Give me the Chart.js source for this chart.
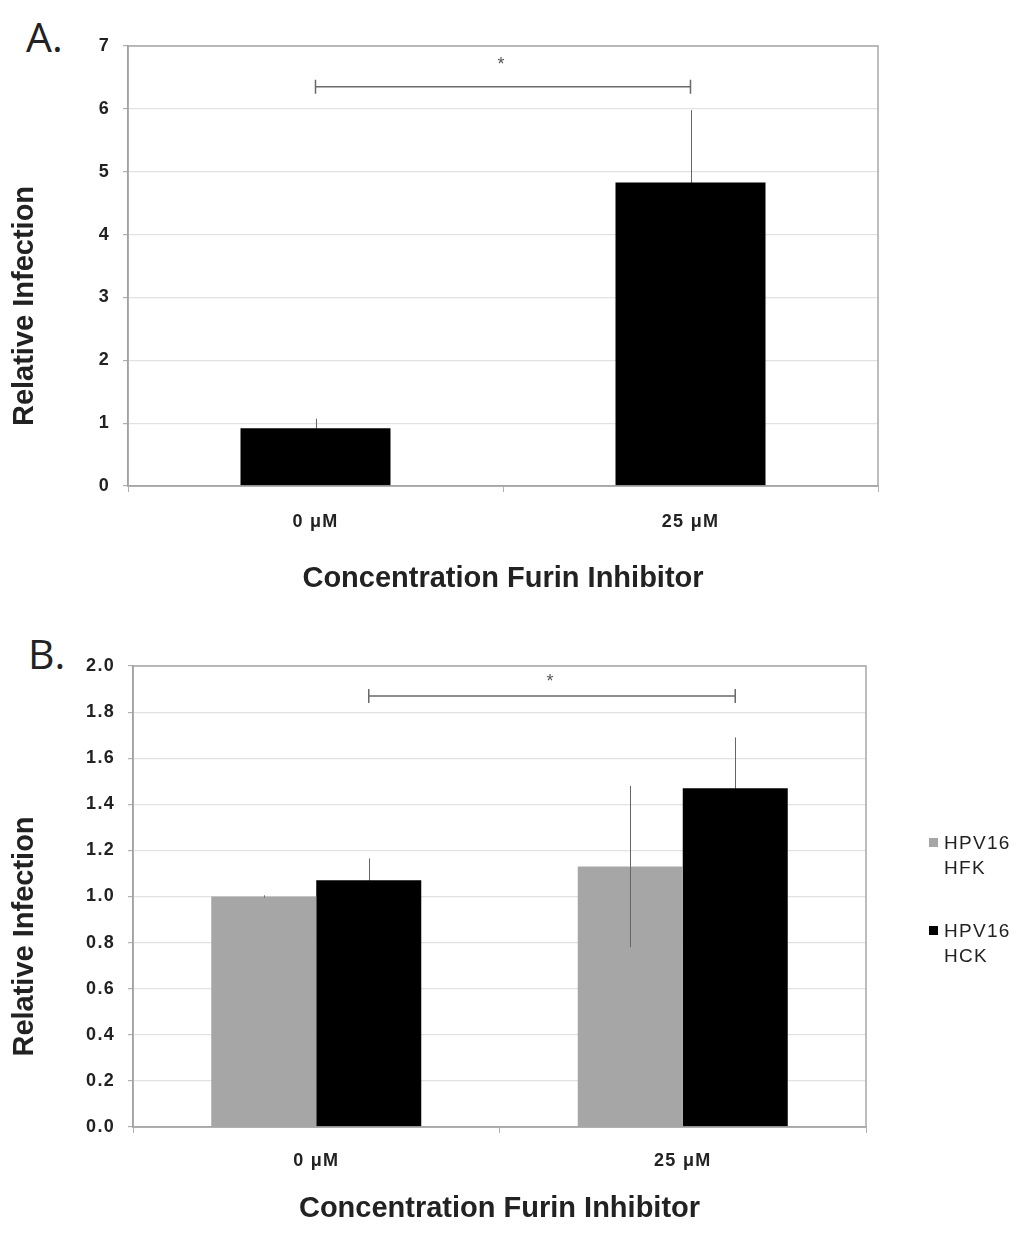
<!DOCTYPE html>
<html>
<head>
<meta charset="utf-8">
<script src="https://cdn.jsdelivr.net/npm/chart.js@4/dist/chart.umd.min.js"></script>
<style>
  html, body { margin: 0; padding: 0; background: #fff; }
  body { width: 1024px; height: 1237px; position: relative; overflow: hidden; font-family: "Liberation Sans", Arial, sans-serif; }
  .wrap { position: absolute; left: 0; width: 1024px; }
  #wrapA { top: 0; height: 618px; }
  #wrapB { top: 618px; height: 619px; }
  .panel { position: absolute; font-family: "Open Sans", sans-serif; font-size: 41px; line-height: 1; color: #222; }
  .legend { position: absolute; left: 929px; font-family: "Liberation Sans", Arial, sans-serif; font-size: 19px; line-height: 25px; color: #222; letter-spacing: 1.3px; }
  .legend .box { position: absolute; left: 0; top: 8px; width: 9px; height: 9px; }
  .legend .txt { position: absolute; left: 15px; top: 0; white-space: nowrap; }
</style>
</head>
<body>
<div class="panel" style="left:26px; top:16px;">A.</div>
<div class="panel" style="left:28px; top:633px;">B.</div>
<div id="wrapA" class="wrap"><canvas id="chartA"></canvas></div>
<div id="wrapB" class="wrap"><canvas id="chartB"></canvas></div>
<div id="legendB"></div>
<script>
// ---- data ----
const categories = ['0 μM', '25 μM'];
const valuesA = [0.92, 4.83];
const errorsA = [0.15, 1.15];
const seriesNamesB = ['HPV16 HFK', 'HPV16 HCK'];
const valuesHFK = [1.0, 1.13];
const errorsHFK = [0.005, 0.35];
const valuesHCK = [1.07, 1.47];
const errorsHCK = [0.095, 0.22];
const ticksA = [0, 1, 2, 3, 4, 5, 6, 7];
const ticksB = [0, 0.2, 0.4, 0.6, 0.8, 1.0, 1.2, 1.4, 1.6, 1.8, 2.0];
const sigA = { dataset: 0, from: 0, to: 1, y: 6.35, label: '*' };
const sigB = { dataset: 1, from: 0, to: 1, y: 1.87, label: '*' };
const axisTitleX = 'Concentration Furin Inhibitor';
const axisTitleY = 'Relative Infection';

const FONT = '"Liberation Sans", Arial, sans-serif';
const TEXT = '#222';
const TICK_SPACING = '1.3px';

// frame + error bars + significance + y title plugin
const extras = {
  id: 'extras',
  beforeDraw(chart) {
    chart.ctx.letterSpacing = TICK_SPACING;
  },
  beforeDatasetsDraw(chart) {
    const ctx = chart.ctx;
    const y = chart.scales.y;
    ctx.save();
    ctx.strokeStyle = '#666';
    ctx.lineWidth = 1;
    chart.data.datasets.forEach((ds, di) => {
      const meta = chart.getDatasetMeta(di);
      meta.data.forEach((bar, i) => {
        const v = ds.data[i], e = ds.errors[i];
        const x = Math.round(bar.x) + 0.5;
        ctx.beginPath();
        ctx.moveTo(x, y.getPixelForValue(v - e));
        ctx.lineTo(x, y.getPixelForValue(v + e));
        ctx.stroke();
      });
    });
    ctx.restore();
  },
  afterDatasetsDraw(chart) {
    const ctx = chart.ctx;
    const y = chart.scales.y;
    const a = chart.chartArea;
    const opts = chart.options.plugins.extras;
    ctx.save();
    // lower part of error bars over light bars
    ctx.strokeStyle = '#666';
    ctx.lineWidth = 1;
    chart.data.datasets.forEach((ds, di) => {
      if (!ds.errorInside) return;
      const meta = chart.getDatasetMeta(di);
      meta.data.forEach((bar, i) => {
        const v = ds.data[i], e = ds.errors[i];
        const x = Math.round(bar.x) + 0.5;
        ctx.beginPath();
        ctx.moveTo(x, y.getPixelForValue(v - e));
        ctx.lineTo(x, y.getPixelForValue(v));
        ctx.stroke();
      });
    });
    // frame
    ctx.strokeStyle = '#a8a8a8';
    ctx.lineWidth = 1.5;
    ctx.strokeRect(a.left, a.top, a.right - a.left, a.bottom - a.top);
    // significance bracket
    const sig = opts.sig;
    const meta = chart.getDatasetMeta(sig.dataset);
    const x1 = meta.data[sig.from].x, x2 = meta.data[sig.to].x;
    const yy = y.getPixelForValue(sig.y);
    ctx.strokeStyle = '#6a6a6a';
    ctx.lineWidth = 1.5;
    ctx.beginPath();
    ctx.moveTo(x1, yy); ctx.lineTo(x2, yy);
    ctx.moveTo(x1, yy - 7); ctx.lineTo(x1, yy + 7);
    ctx.moveTo(x2, yy - 7); ctx.lineTo(x2, yy + 7);
    ctx.stroke();
    ctx.fillStyle = '#555';
    ctx.font = '18px ' + FONT;
    ctx.letterSpacing = '0px';
    ctx.textAlign = 'center';
    ctx.textBaseline = 'middle';
    ctx.fillText(sig.label, (x1 + x2) / 2 - 2, yy + opts.starDy);
    // y-axis title
    ctx.fillStyle = TEXT;
    ctx.font = 'bold 29px ' + FONT;
    ctx.translate(25, (a.top + a.bottom) / 2 + opts.yTitleShift);
    ctx.rotate(-Math.PI / 2);
    ctx.fillText(axisTitleY, 0, 0);
    ctx.restore();
  }
};

function plainTitle(s) {
  if (s._plainTitle) return;
  const orig = s.drawTitle;
  s.drawTitle = function () {
    const c = this.ctx;
    c.save();
    c.letterSpacing = '0px';
    orig.call(this);
    c.restore();
  };
  s._plainTitle = true;
}

function makeOptions(cfg) {
  return {
    responsive: true,
    maintainAspectRatio: false,
    animation: false,
    layout: { padding: { left: 0, top: cfg.top, right: cfg.right, bottom: 0 } },
    plugins: {
      legend: { display: false },
      tooltip: { enabled: false },
      extras: { sig: cfg.sig, starDy: cfg.starDy, yTitleShift: 40 }
    },
    scales: {
      x: {
        type: 'category',
        grid: { offset: true, drawOnChartArea: false, drawTicks: true, tickLength: 6, color: '#b0b0b0' },
        border: { color: '#a0a0a0', width: 1.5 },
        ticks: { color: TEXT, font: { family: FONT, size: 18, weight: 'bold' }, padding: cfg.xTickPad },
        title: { display: true, text: axisTitleX, color: TEXT, font: { family: FONT, size: 29, weight: 'bold' }, padding: { top: 0, bottom: cfg.xTitlePad } },
        afterFit(s) { s.height = cfg.xHeight; plainTitle(s); }
      },
      y: {
        min: cfg.min, max: cfg.max,
        afterBuildTicks(s) { s.ticks = cfg.ticks.map(v => ({ value: v })); },
        grid: { color: '#e2e2e2', lineWidth: 1.2, drawTicks: true, tickLength: 5, tickColor: '#b0b0b0' },
        border: { color: '#8c8c8c', width: 1.5 },
        ticks: {
          color: TEXT, font: { family: FONT, size: 18, weight: 'bold' }, padding: cfg.yTickPad,
          callback: v => cfg.fmt(v)
        },
        title: { display: false, text: axisTitleY },
        afterFit(s) { s.width = cfg.yWidth; }
      }
    }
  };
}

new Chart(document.getElementById('chartA'), {
  type: 'bar',
  data: {
    labels: categories,
    datasets: [{
      label: 'Relative Infection',
      data: valuesA,
      errors: errorsA,
      errorInside: false,
      backgroundColor: '#000',
      categoryPercentage: 0.4,
      barPercentage: 1.0
    }]
  },
  options: makeOptions({
    top: 46, right: 146, xHeight: 132, yWidth: 128,
    xTickPad: 19, xTitlePad: 22, yTickPad: 13, starDy: -22,
    min: 0, max: 7, ticks: ticksA, fmt: v => String(v), sig: sigA
  }),
  plugins: [extras]
});

new Chart(document.getElementById('chartB'), {
  type: 'bar',
  data: {
    labels: categories,
    datasets: [{
      label: seriesNamesB[0],
      data: valuesHFK,
      errors: errorsHFK,
      errorInside: true,
      backgroundColor: '#a6a6a6',
      categoryPercentage: 0.573,
      barPercentage: 1.0
    }, {
      label: seriesNamesB[1],
      data: valuesHCK,
      errors: errorsHCK,
      errorInside: false,
      backgroundColor: '#000',
      categoryPercentage: 0.573,
      barPercentage: 1.0
    }]
  },
  options: makeOptions({
    top: 48, right: 158, xHeight: 110, yWidth: 133,
    xTickPad: 17, xTitlePad: 11, yTickPad: 13, starDy: -14,
    min: 0, max: 2, ticks: ticksB, fmt: v => v.toFixed(1), sig: sigB
  }),
  plugins: [extras]
});

// HTML legend for panel B
const legendColors = ['#a6a6a6', '#000'];
const legendTops = [830, 918];
const legendEl = document.getElementById('legendB');
seriesNamesB.forEach((name, i) => {
  const item = document.createElement('div');
  item.className = 'legend';
  item.style.top = legendTops[i] + 'px';
  const box = document.createElement('div');
  box.className = 'box';
  box.style.background = legendColors[i];
  const txt = document.createElement('div');
  txt.className = 'txt';
  txt.innerHTML = name.replace(' ', '<br>');
  item.appendChild(box);
  item.appendChild(txt);
  legendEl.appendChild(item);
});
</script>
</body>
</html>
